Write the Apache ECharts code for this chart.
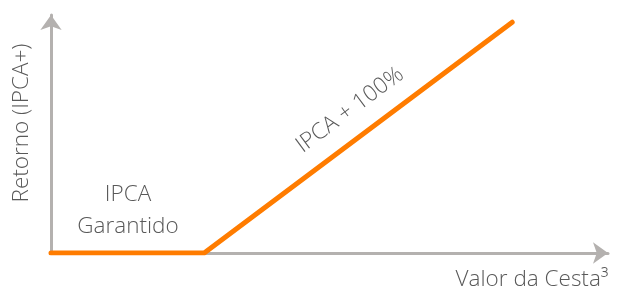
<!DOCTYPE html>
<html lang="pt">
<head>
    <meta charset="UTF-8">
    <title>Retorno x Valor da Cesta</title>
    <script src="https://cdn.jsdelivr.net/npm/echarts@6.0.0/dist/echarts.min.js"></script>
    <style>
        html, body { margin: 0; padding: 0; background: #fff; }
    </style>
</head>
<body>
    <div id="main" style="width: 617px;height:297px;"></div>
    <script type="text/javascript">
        // Payoff points (value of basket -> return)
        const cestaValues = [0, 27.5, 82.8];
        const retornoValues = [0, 0, 97];

        const axisColor = '#b4b1af';
        const textColor = '#595959';
        const font = '300 22.5px "Open Sans", "Noto Sans", sans-serif';

        let myChart = echarts.init(document.getElementById('main'));

        let options = {
            animation: false,
            grid: { left: 51, right: 9, top: 15, bottom: 44 },
            xAxis: {
                type: 'value',
                min: 0,
                max: 100,
                axisLine: {
                    show: true,
                    symbol: ['none', 'arrow'],
                    symbolSize: [16, 15],
                    lineStyle: { color: axisColor, width: 3 }
                },
                axisTick: { show: false },
                axisLabel: { show: false },
                splitLine: { show: false }
            },
            yAxis: {
                type: 'value',
                min: 0,
                max: 100,
                axisLine: {
                    show: true,
                    symbol: ['none', 'arrow'],
                    symbolSize: [16, 15],
                    lineStyle: { color: axisColor, width: 3 }
                },
                axisTick: { show: false },
                axisLabel: { show: false },
                splitLine: { show: false }
            },
            series: [{
                type: 'line',
                data: cestaValues.map((x, i) => [x, retornoValues[i]]),
                symbol: 'none',
                lineStyle: { color: '#ff7c00', width: 5, cap: 'round', join: 'round' },
                z: 5
            }],
            graphic: [
                {
                    type: 'text', x: 22, y: 123, rotation: Math.PI / 2,
                    style: { text: 'Retorno (IPCA+)', font: font, fill: textColor, align: 'center', verticalAlign: 'middle' }
                },
                {
                    type: 'text', x: 532, y: 280,
                    style: { text: 'Valor da Cesta³', font: font, fill: textColor, align: 'center', verticalAlign: 'middle' }
                },
                {
                    type: 'text', x: 128, y: 195,
                    style: { text: 'IPCA', font: font, fill: textColor, align: 'center', verticalAlign: 'middle' }
                },
                {
                    type: 'text', x: 128, y: 227,
                    style: { text: 'Garantido', font: font, fill: textColor, align: 'center', verticalAlign: 'middle' }
                },
                {
                    type: 'text', x: 350, y: 110, rotation: 0.64,
                    style: { text: 'IPCA + 100%', font: font, fill: textColor, align: 'center', verticalAlign: 'middle' }
                }
            ]
        };

        myChart.setOption(options);
    </script>
</body>
</html>
